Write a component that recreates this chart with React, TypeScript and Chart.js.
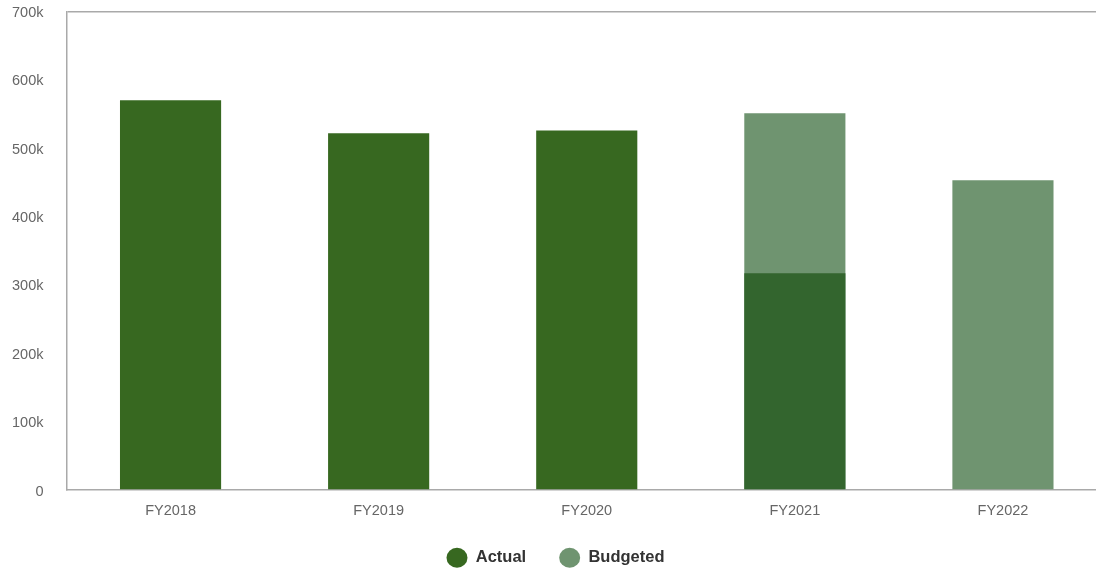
import React, { useEffect, useRef } from "react";
import { Chart, registerables } from "chart.js";

Chart.register(...registerables);

const categories = ["FY2018", "FY2019", "FY2020", "FY2021", "FY2022"];
const actualValues = [570000, 522000, 526000, 317000, null];
const budgetedValues = [null, null, null, 551000, 453000];
const actualColors = ["#376820", "#376820", "#376820", "#33652e", "#376820"];
const budgetedColor = "#6f9470";
const yTicks = [0, 100000, 200000, 300000, 400000, 500000, 600000, 700000];

const FONT = "'Liberation Sans', Arial, Helvetica, sans-serif";

export default function App() {
  const ref = useRef<HTMLCanvasElement | null>(null);

  useEffect(() => {
    document.body.style.margin = "0";
    document.body.style.overflow = "hidden";
    const canvas = ref.current;
    if (!canvas) return;
    const chart = new Chart(canvas, {
      type: "bar",
      data: {
        labels: categories,
        datasets: [
          {
            label: "Actual",
            data: actualValues as any,
            backgroundColor: actualColors,
            borderWidth: 0,
            grouped: false,
            barPercentage: 0.486,
            categoryPercentage: 1,
          } as any,
          {
            label: "Budgeted",
            data: budgetedValues as any,
            backgroundColor: budgetedColor,
            borderWidth: 0,
            grouped: false,
            barPercentage: 0.486,
            categoryPercentage: 1,
          } as any,
        ],
      },
      options: {
        responsive: false,
        animation: false,
        devicePixelRatio: 1,
        layout: { padding: { top: 0, left: 4, right: 0, bottom: -5 } },
        plugins: {
          tooltip: { enabled: false },
          legend: {
            position: "bottom",
            labels: {
              usePointStyle: true,
              pointStyle: "circle",
              pointStyleWidth: 21,
              boxHeight: 14.14,
              padding: 33,
              color: "#333333",
              font: { family: FONT, size: 16.5, weight: "bold" },
              generateLabels: (c: any) =>
                c.data.datasets.map((ds: any, i: number) => ({
                  text: ds.label,
                  fillStyle: i === 0 ? actualColors[0] : budgetedColor,
                  strokeStyle: "rgba(0,0,0,0)",
                  lineWidth: 0,
                  pointStyle: "circle",
                  hidden: false,
                  datasetIndex: i,
                  fontColor: "#333333",
                })),
            },
          },
        },
        scales: {
          x: {
            grid: { display: false, drawTicks: false },
            border: { display: true, color: "#a9a9a9", width: 1.5 },
            ticks: {
              color: "#666666",
              padding: 12.5,
              font: { family: FONT, size: 14.5 },
            },
            afterFit: (s: any) => {
              s.height = 26.5;
            },
          },
          y: {
            min: 0,
            max: 700000,
            afterBuildTicks: (s: any) => {
              s.ticks = yTicks.map((v) => ({ value: v }));
            },
            grid: {
              drawTicks: true,
              tickLength: 20.2,
              tickColor: "rgba(0,0,0,0)",
              color: (ctx: any) =>
                ctx.tick && ctx.tick.value === 700000 ? "#a9a9a9" : "rgba(0,0,0,0)",
              lineWidth: 1.5,
            },
            border: { display: true, color: "#a9a9a9", width: 1.5 },
            ticks: {
              color: "#666666",
              padding: 2.8,
              labelOffset: 1.5,
              font: { family: FONT, size: 14.5 },
              callback: (v: any) => (Number(v) === 0 ? "0" : Number(v) / 1000 + "k"),
            },
            afterFit: (s: any) => {
              s.width = 62.5;
            },
          },
        },
      } as any,
    });
    return () => chart.destroy();
  }, []);

  return (
    <div style={{ width: 1096, height: 571, overflow: "hidden", position: "relative" }}>
      <canvas ref={ref} width={1107} height={571} style={{ width: 1107, height: 571, display: "block" }} />
    </div>
  );
}
